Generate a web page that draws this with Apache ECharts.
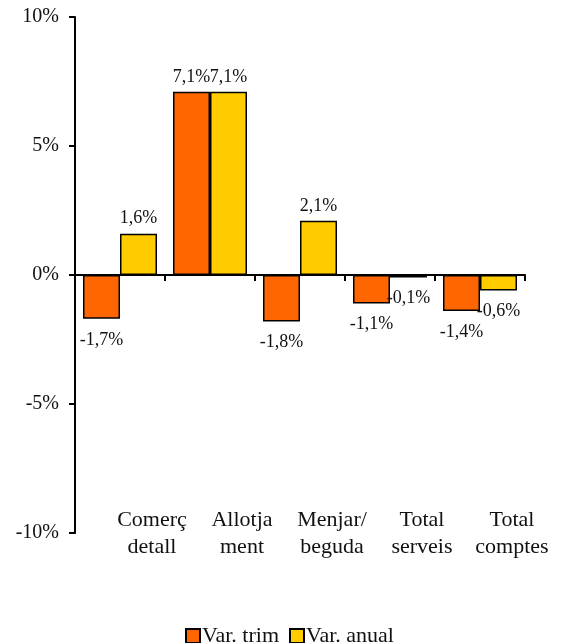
<!DOCTYPE html>
<html>
<head>
<meta charset="utf-8">
<script src="https://cdn.jsdelivr.net/npm/echarts@6/dist/echarts.min.js"></script>
<style>html,body{margin:0;padding:0;background:#fff;}#c{width:570px;height:643px;}</style>
</head>
<body>
<div id="c"></div>
<script>
var categories = ['Comerç\ndetall', 'Allotja\nment', 'Menjar/\nbeguda', 'Total\nserveis', 'Total\ncomptes'];
var varTrim = [-1.7, 7.1, -1.8, -1.1, -1.4];
var varAnual = [1.6, 7.1, 2.1, -0.1, -0.6];
var yTicks = [-10, -5, 0, 5, 10];

var FONT = '"Liberation Serif", "Times New Roman", serif';
function fmt(v) { return v.toFixed(1).replace('.', ',') + '%'; }
function lbl(v) {
  return { value: v, label: { position: v >= 0 ? 'top' : 'bottom', distance: v >= 0 ? 6 : 12 } };
}

var chart = echarts.init(document.getElementById('c'));
chart.setOption({
  animation: false,
  textStyle: { fontFamily: FONT, color: '#111' },
  legend: {
    top: 620, left: 180,
    itemWidth: 14, itemHeight: 14, itemGap: 10,
    icon: 'rect',
    textStyle: { fontFamily: FONT, fontSize: 22, color: '#111', padding: [0, 0, 0, -3] },
    data: ['Var. trim', 'Var. anual']
  },
  grid: { left: 75, right: 45, top: 17, bottom: 110 },
  xAxis: [{
    type: 'category',
    data: categories,
    axisLine: { onZero: true, lineStyle: { color: '#000', width: 2 } },
    axisTick: { show: true, length: 6, lineStyle: { color: '#000', width: 2 } },
    axisLabel: { show: false }
  }, {
    type: 'category',
    data: categories,
    position: 'bottom',
    offset: -26,
    axisLine: { show: false },
    axisTick: { show: false },
    axisLabel: {
      margin: 0, fontFamily: FONT, fontSize: 22, lineHeight: 27, color: '#111',
      padding: [0, 0, 0, 64], interval: 0
    }
  }],
  yAxis: {
    type: 'value', min: -10, max: 10, interval: 5,
    splitLine: { show: false },
    axisLine: { show: true, lineStyle: { color: '#000', width: 2 } },
    axisTick: { show: true, length: 6, lineStyle: { color: '#000', width: 2 } },
    axisLabel: {
      fontFamily: FONT, fontSize: 20, color: '#111', margin: 16,
      formatter: function (v) { return yTicks.indexOf(v) >= 0 ? v + '%' : ''; }
    }
  },
  series: [{
    name: 'Var. trim', type: 'bar', barWidth: 37, barGap: '0%',
    data: varTrim.map(lbl),
    itemStyle: { color: '#FF6600', borderColor: '#000', borderWidth: 1.5 },
    label: { show: true, fontFamily: FONT, fontSize: 18, color: '#111', formatter: function (p) { return fmt(p.value); } }
  }, {
    name: 'Var. anual', type: 'bar', barWidth: 37,
    data: varAnual.map(lbl),
    itemStyle: { color: '#FFCC00', borderColor: '#000', borderWidth: 1.5 },
    label: { show: true, fontFamily: FONT, fontSize: 18, color: '#111', formatter: function (p) { return fmt(p.value); } }
  }]
});
</script>
</body>
</html>
